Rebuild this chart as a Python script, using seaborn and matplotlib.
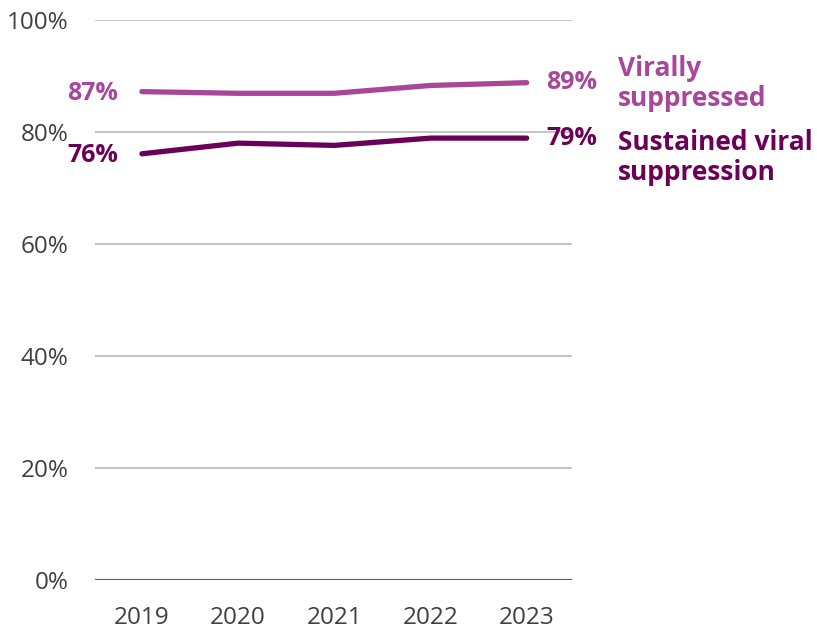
import matplotlib
matplotlib.use("Agg")
import matplotlib.pyplot as plt
import seaborn as sns
import pandas as pd

years = ["2019", "2020", "2021", "2022", "2023"]
virally_suppressed = [87.2, 86.9, 86.9, 88.3, 88.8]
sustained_suppression = [76.1, 78.0, 77.6, 78.9, 78.9]
series_names = ["Virally\nsuppressed", "Sustained viral\nsuppression"]
series_colors = ["#A8479A", "#6B0057"]
y_ticks = [0, 20, 40, 60, 80, 100]

sns.set_theme(style="white")
plt.rcParams["font.family"] = ["Open Sans", "DejaVu Sans"]

df = pd.DataFrame({
    "year": years * 2,
    "x": list(range(len(years))) * 2,
    "value": virally_suppressed + sustained_suppression,
    "series": [series_names[0]] * len(years) + [series_names[1]] * len(years),
})

fig = plt.figure(figsize=(8.17, 6.35), dpi=100)
ax = fig.add_axes([0.116, 0.0866, 0.584, 0.882])

for y in y_ticks[1:]:
    ax.axhline(y, color="#BFBFBF", lw=1.3, zorder=0)
ax.axhline(0, color="#595959", lw=1.5, zorder=1)

sns.lineplot(data=df, x="x", y="value", hue="series", palette=series_colors,
             linewidth=3.8, legend=False, ax=ax, solid_capstyle="round")

ax.set_xlim(-0.49, 4.47)
ax.set_ylim(0, 100)
ax.set_xticks(range(len(years)))
ax.set_xticklabels(years)
ax.set_yticks(y_ticks)
ax.set_yticklabels([f"{v}%" for v in y_ticks])
ax.tick_params(axis="both", labelsize=17.5, colors="#404040", length=0)
ax.tick_params(axis="y", pad=19)
ax.tick_params(axis="x", pad=19)
ax.set_xlabel("")
ax.set_ylabel("")
for s in ax.spines.values():
    s.set_visible(False)

for vals, name, col in zip([virally_suppressed, sustained_suppression], series_names, series_colors):
    ax.annotate(f"{round(vals[0])}%", (0, vals[0]), xytext=(-17, -1.5), textcoords="offset points",
                ha="right", va="center", fontsize=18, fontweight="bold", color=col)
    ax.annotate(f"{round(vals[-1])}%", (4, vals[-1]), xytext=(14, 0), textcoords="offset points",
                ha="left", va="center", fontsize=18, fontweight="bold", color=col)

ax.annotate(series_names[0], (4, virally_suppressed[-1]), xytext=(66, -0.5), textcoords="offset points",
            ha="left", va="center", fontsize=19, fontweight="bold", color=series_colors[0],
            linespacing=1.12)
ax.annotate(series_names[1], (4, sustained_suppression[-1]), xytext=(66, -14), textcoords="offset points",
            ha="left", va="center", fontsize=19, fontweight="bold", color=series_colors[1],
            linespacing=1.12)

fig.savefig("out.png", dpi=100)
